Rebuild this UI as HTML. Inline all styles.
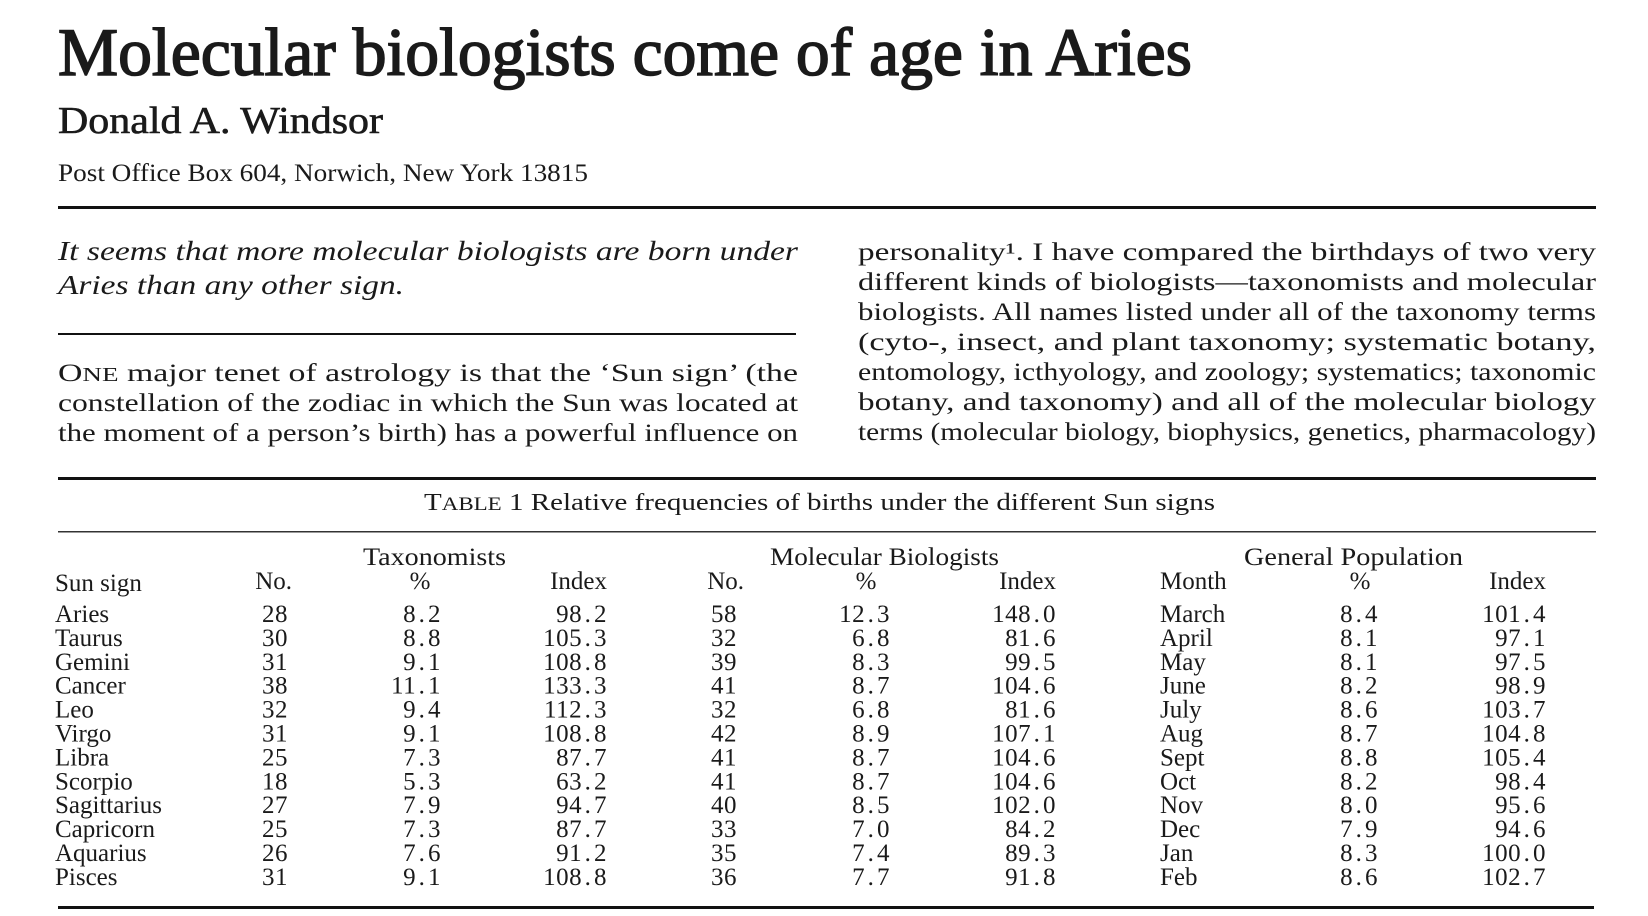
<!DOCTYPE html>
<html><head><meta charset="utf-8"><style>
html,body{margin:0;padding:0;background:#fff;}
svg{display:block;}
text{font-family:"Liberation Serif",serif;fill:#1a1a1a;}
</style></head><body>
<svg id="pg" width="1648" height="916" viewBox="0 0 1648 916">
<text x="58" y="75" font-size="68" stroke="#1a1a1a" stroke-width="1.6" textLength="1134" lengthAdjust="spacingAndGlyphs">Molecular biologists come of age in Aries</text>
<text x="58" y="133" font-size="38" stroke="#1a1a1a" stroke-width="0.6" textLength="325" lengthAdjust="spacingAndGlyphs">Donald  A.  Windsor</text>
<text x="58" y="181" font-size="25" textLength="530" lengthAdjust="spacingAndGlyphs">Post Office Box 604, Norwich, New York 13815</text>
<rect x="58" y="206" width="1538" height="3" fill="#111"/>

<g font-style="italic" font-size="27">
<text x="58" y="260" textLength="740" lengthAdjust="spacingAndGlyphs">It seems that more molecular biologists are born under</text>
<text x="58" y="294" textLength="346" lengthAdjust="spacingAndGlyphs">Aries than any other sign.</text>
</g>
<rect x="58" y="333" width="738" height="2" fill="#111"/>

<g font-size="25">
<text x="58" y="381" textLength="740" lengthAdjust="spacingAndGlyphs">O<tspan font-size="20">NE</tspan> major tenet of astrology is that the ‘Sun sign’ (the</text>
<text x="58" y="411" textLength="740" lengthAdjust="spacingAndGlyphs">constellation of the zodiac in which the Sun was located at</text>
<text x="58" y="441" textLength="740" lengthAdjust="spacingAndGlyphs">the moment of a person’s birth) has a powerful influence on</text>
</g>
<g font-size="25">
<text x="858" y="260" textLength="738" lengthAdjust="spacingAndGlyphs">personality¹. I have compared the birthdays of two very</text>
<text x="858" y="290" textLength="738" lengthAdjust="spacingAndGlyphs">different kinds of biologists—taxonomists and molecular</text>
<text x="858" y="320" textLength="738" lengthAdjust="spacingAndGlyphs">biologists. All names listed under all of the taxonomy terms</text>
<text x="858" y="350" textLength="738" lengthAdjust="spacingAndGlyphs">(cyto-, insect, and plant taxonomy; systematic botany,</text>
<text x="858" y="380" textLength="738" lengthAdjust="spacingAndGlyphs">entomology, icthyology, and zoology; systematics; taxonomic</text>
<text x="858" y="410" textLength="738" lengthAdjust="spacingAndGlyphs">botany, and taxonomy) and all of the molecular biology</text>
<text x="858" y="440" textLength="738" lengthAdjust="spacingAndGlyphs">terms (molecular biology, biophysics, genetics, pharmacology)</text>
</g>

<rect x="58" y="477" width="1538" height="3" fill="#111"/>
<text x="424" y="510" font-size="24" textLength="791" lengthAdjust="spacingAndGlyphs">T<tspan font-size="19">ABLE</tspan>  1    Relative frequencies of births under the different Sun signs</text>
<rect x="58" y="531" width="1538" height="1.5" fill="#333"/>

<g font-size="25">
<text x="363" y="565" textLength="143" lengthAdjust="spacingAndGlyphs">Taxonomists</text>
<text x="770" y="565" textLength="229" lengthAdjust="spacingAndGlyphs">Molecular Biologists</text>
<text x="1244" y="565" textLength="219" lengthAdjust="spacingAndGlyphs">General Population</text>
</g>
<g font-size="25">
<text x="55" y="591">Sun sign</text>
<text x="292" y="589" text-anchor="end">No.</text>
<text x="420" y="589" text-anchor="middle">%</text>
<text x="607" y="589" text-anchor="end">Index</text>
<text x="744" y="589" text-anchor="end">No.</text>
<text x="866" y="589" text-anchor="middle">%</text>
<text x="1056" y="589" text-anchor="end">Index</text>
<text x="1160" y="589">Month</text>
<text x="1360" y="589" text-anchor="middle">%</text>
<text x="1546" y="589" text-anchor="end">Index</text>
</g>
<g id="rows" font-size="25"></g>
<rect x="58" y="906" width="1536" height="3" fill="#111"/>
</svg>
<script>
const signs=["Aries","Taurus","Gemini","Cancer","Leo","Virgo","Libra","Scorpio","Sagittarius","Capricorn","Aquarius","Pisces"];
const taxNo=["28","30","31","38","32","31","25","18","27","25","26","31"];
const taxPct=["8.2","8.8","9.1","11.1","9.4","9.1","7.3","5.3","7.9","7.3","7.6","9.1"];
const taxIdx=["98.2","105.3","108.8","133.3","112.3","108.8","87.7","63.2","94.7","87.7","91.2","108.8"];
const molNo=["58","32","39","41","32","42","41","41","40","33","35","36"];
const molPct=["12.3","6.8","8.3","8.7","6.8","8.9","8.7","8.7","8.5","7.0","7.4","7.7"];
const molIdx=["148.0","81.6","99.5","104.6","81.6","107.1","104.6","104.6","102.0","84.2","89.3","91.8"];
const months=["March","April","May","June","July","Aug","Sept","Oct","Nov","Dec","Jan","Feb"];
const popPct=["8.4","8.1","8.1","8.2","8.6","8.7","8.8","8.2","8.0","7.9","8.3","8.6"];
const popIdx=["101.4","97.1","97.5","98.9","103.7","104.8","105.4","98.4","95.6","94.6","100.0","102.7"];
const NS="http://www.w3.org/2000/svg";
const g=document.getElementById('rows');
function rowY(i){return 622+i*23.9;}
function cell(txt,x,y,anchor,name){
  const t=document.createElementNS(NS,'text');
  t.setAttribute('x',x);t.setAttribute('y',y);
  if(anchor)t.setAttribute('text-anchor',anchor);
  
  
  t.setAttribute('letter-spacing','0.5');
  t.textContent=txt.replace('.','\u200A.\u200A');
  g.appendChild(t);
}
signs.forEach((s,i)=>{
  const y=rowY(i);
  const t=document.createElementNS(NS,'text');
  t.setAttribute('x',55);t.setAttribute('y',y);
  
  
  t.textContent=s;g.appendChild(t);
  cell(taxNo[i],288,y,'end','taxonomists-no');
  cell(taxPct[i],441,y,'end','taxonomists-pct');
  cell(taxIdx[i],607,y,'end','taxonomists-index');
  cell(molNo[i],737,y,'end','molecular-no');
  cell(molPct[i],890,y,'end','molecular-pct');
  cell(molIdx[i],1056,y,'end','molecular-index');
  const m=document.createElementNS(NS,'text');
  m.setAttribute('x',1160);m.setAttribute('y',y);
  
  
  m.textContent=months[i];g.appendChild(m);
  cell(popPct[i],1378,y,'end','population-pct');
  cell(popIdx[i],1546,y,'end','population-index');
});
</script>
</body></html>
